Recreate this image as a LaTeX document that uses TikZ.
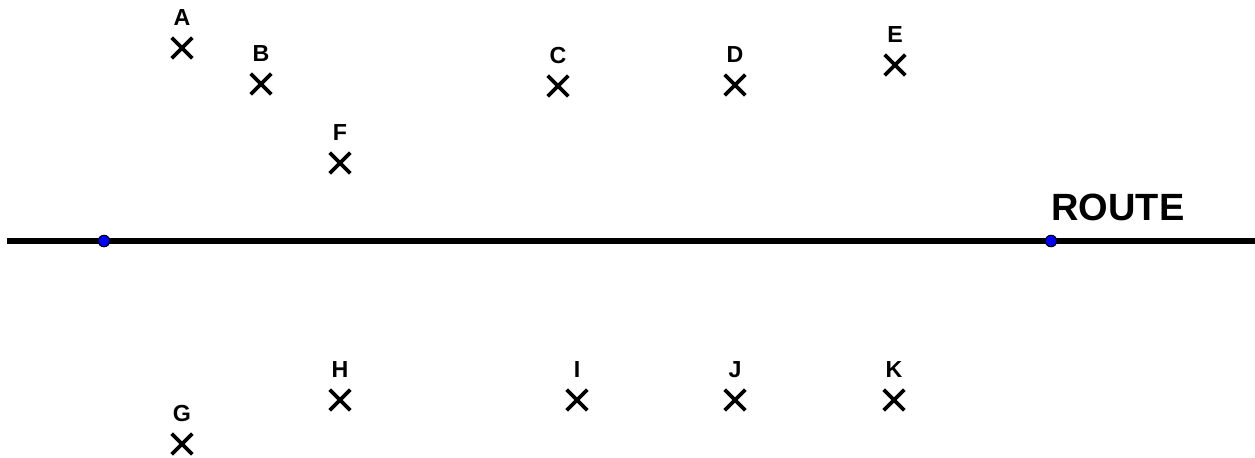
\documentclass[tikz,border=0pt]{standalone}
\usepackage{fontspec}
\setmainfont{Liberation Sans}
\usetikzlibrary{shapes.misc,positioning}

\begin{document}
\begin{tikzpicture}[
    x=0.01cm, y=-0.01cm,
    xpt/.style={cross out, draw, line width=1.05pt, minimum size=0.17cm, inner sep=0pt},
    ptlabel/.style={font=\bfseries\fontsize{6.6}{7}\selectfont, inner sep=0pt, label distance=0.11cm},
    dot/.style={circle, fill=blue, draw=black, line width=0.3pt, minimum size=0.115cm, inner sep=0pt},
    route/.style={line width=1.6pt},
]
    \useasboundingbox (0,0) rectangle (1255,457);

    % The road
    \coordinate (west) at (7,241);
    \coordinate (east) at (1255,241);
    \draw[route] (west) -- (east);
    \node[dot] (p1) at (104,241) {};
    \node[dot] (p2) at (1051,241) {};
    \node[font=\bfseries\fontsize{10.8}{12}\selectfont, inner sep=0pt] (route) at (1118,207) {ROUTE};

    % Points above the road
    \foreach \n/\x/\y in {A/182/48, B/261/84, C/558/86, D/735/85, E/895/65, F/340/163}
        \node[xpt, label={[ptlabel]above:\n}] (\n) at (\x,\y) {};

    % Points below the road
    \foreach \n/\x/\y in {G/182/444, H/340/400, I/577/400, J/735/400, K/894/400}
        \node[xpt, label={[ptlabel]above:\n}] (\n) at (\x,\y) {};
\end{tikzpicture}
\end{document}
